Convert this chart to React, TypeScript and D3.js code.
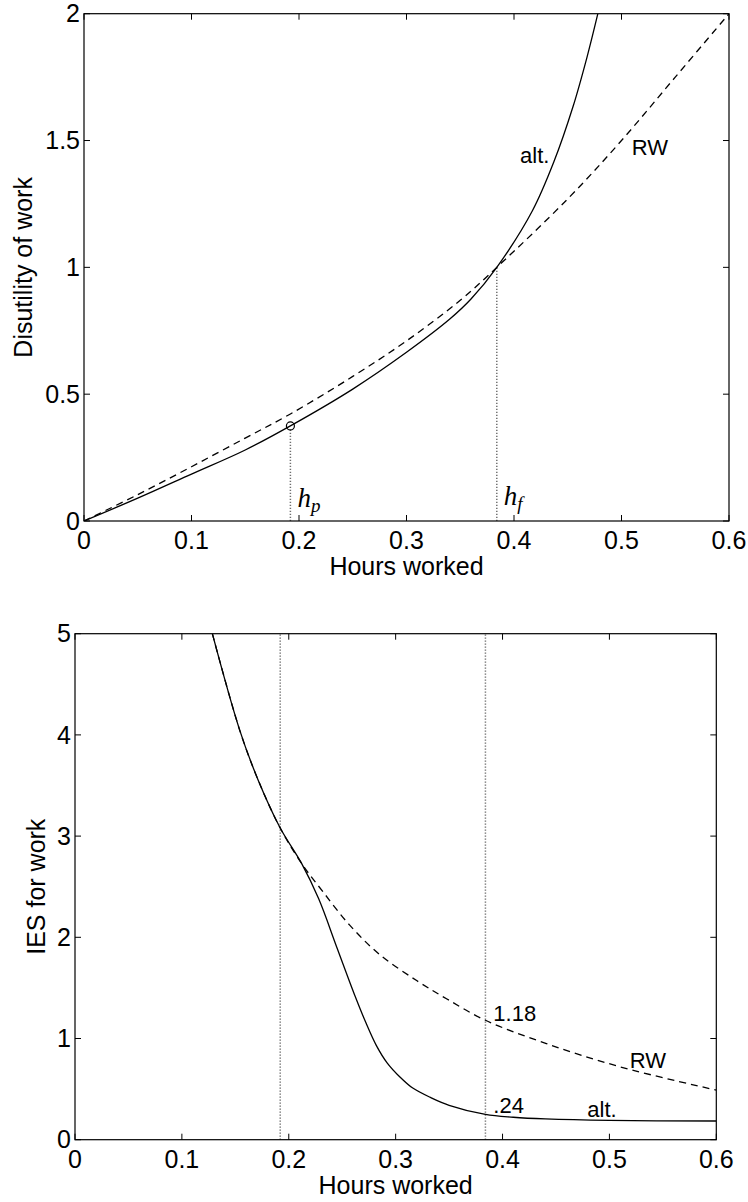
import React from 'react';
import * as d3 from 'd3';

// tick values shared by both panels
const xTicks = [0, 0.1, 0.2, 0.3, 0.4, 0.5, 0.6];
const topYTicks = [0, 0.5, 1, 1.5, 2];
const bottomYTicks = [0, 1, 2, 3, 4, 5];

// marked hours
const hPart = 0.192;
const hFull = 0.384;
const altAtPart = 0.375;
const valueAtFull = 1.0;

// top panel: disutility of work
const topRwHours = [0, 0.05, 0.1, 0.15, 0.192, 0.25, 0.3, 0.35, 0.384, 0.45, 0.5, 0.55, 0.6];
const topRwValues = [0, 0.104, 0.214, 0.327, 0.422, 0.57, 0.71, 0.87, 1.0, 1.27, 1.5, 1.75, 2.0];
const topAltHours = [0, 0.05, 0.1, 0.15, 0.192, 0.25, 0.3, 0.34, 0.36, 0.384, 0.417, 0.437, 0.455, 0.468, 0.478];
const topAltValues = [0, 0.09, 0.185, 0.28, 0.375, 0.52, 0.665, 0.795, 0.875, 1.0, 1.222, 1.415, 1.635, 1.83, 2.0];

// bottom panel: IES for work
const botRwHours = [0.1285, 0.154, 0.1715, 0.192, 0.212, 0.232, 0.257, 0.285, 0.32, 0.348, 0.384, 0.441, 0.51, 0.6];
const botRwValues = [5.0, 4.05, 3.55, 3.08, 2.73, 2.45, 2.12, 1.83, 1.57, 1.39, 1.18, 0.95, 0.72, 0.49];
const botAltHours = [0.1285, 0.154, 0.1715, 0.192, 0.212, 0.228, 0.245, 0.262, 0.272, 0.282, 0.292, 0.304, 0.316, 0.333, 0.35, 0.384, 0.41, 0.44, 0.5, 0.6];
const botAltValues = [5.0, 4.05, 3.55, 3.08, 2.73, 2.38, 1.9, 1.42, 1.16, 0.93, 0.76, 0.62, 0.51, 0.415, 0.34, 0.25, 0.222, 0.205, 0.19, 0.185];

const SANS = '"Liberation Sans", Arial, Helvetica, sans-serif';
const SERIF = '"Liberation Serif", "Times New Roman", serif';

function Frame({ x, y, xTickVals, yTickVals, yFmt, yLabel, yLabelX }) {
  const [x0, x1] = x.range();
  const [y0, y1] = y.range();
  const tl = 6;
  return (
    <g>
      <rect x={x0} y={y1} width={x1 - x0} height={y0 - y1} fill="none" stroke="#000" strokeWidth={1.2} />
      {xTickVals.map(t => (
        <g key={'x' + t}>
          <line x1={x(t)} x2={x(t)} y1={y0} y2={y0 - tl} stroke="#000" />
          <line x1={x(t)} x2={x(t)} y1={y1} y2={y1 + tl} stroke="#000" />
          <text x={x(t)} y={y0 + 28} textAnchor="middle" fontSize={25} fontFamily={SANS}>{String(t)}</text>
        </g>
      ))}
      {yTickVals.map(t => (
        <g key={'y' + t}>
          <line x1={x0} x2={x0 + tl} y1={y(t)} y2={y(t)} stroke="#000" />
          <line x1={x1} x2={x1 - tl} y1={y(t)} y2={y(t)} stroke="#000" />
          <text x={x0 - 4} y={y(t)} dy="0.35em" textAnchor="end" fontSize={25} fontFamily={SANS}>{yFmt(t)}</text>
        </g>
      ))}
      <text x={(x0 + x1) / 2} y={y0 + 54} textAnchor="middle" fontSize={25} fontFamily={SANS}>Hours worked</text>
      <text transform={`translate(${yLabelX},${(y0 + y1) / 2}) rotate(-90)`} textAnchor="middle" fontSize={25} fontFamily={SANS}>{yLabel}</text>
    </g>
  );
}

export default function App() {
  // top panel scales
  const xTop = d3.scaleLinear().domain([0, 0.6]).range([84, 729]);
  const yTop = d3.scaleLinear().domain([0, 2]).range([521, 13.7]);
  // bottom panel scales
  const xBot = d3.scaleLinear().domain([0, 0.6]).range([75, 716.3]);
  const yBot = d3.scaleLinear().domain([0, 5]).range([1139.7, 633.7]);

  const mkLine = (xs, ys) => d3.line().curve(d3.curveCatmullRom.alpha(0.5)).x(d => xs(d[0])).y(d => ys(d[1]));
  const zip = (a, b) => a.map((v, i) => [v, b[i]]);

  const lineTop = mkLine(xTop, yTop);
  const lineBot = mkLine(xBot, yBot);

  const fmt1 = t => (t === 0 ? '0' : String(t));
  const dotted = { stroke: '#6f6f6f', strokeWidth: 1.5, strokeDasharray: '1.2,1.8' };

  return (
    <svg width={748} height={1202} style={{ position: 'absolute', left: 0, top: 0, background: '#fff' }}>
      <rect width={748} height={1202} fill="#fff" />
      <defs>
        <clipPath id="clipTop"><rect x={84} y={13.7} width={645} height={507.3} /></clipPath>
        <clipPath id="clipBot"><rect x={75} y={633.7} width={641.3} height={506} /></clipPath>
      </defs>

      {/* top panel */}
      <g clipPath="url(#clipTop)">
        <line x1={xTop(hPart)} x2={xTop(hPart)} y1={yTop(0)} y2={yTop(altAtPart) + 4} {...dotted} />
        <line x1={xTop(hFull)} x2={xTop(hFull)} y1={yTop(0)} y2={yTop(valueAtFull)} {...dotted} />
        <path d={lineTop(zip(topRwHours, topRwValues))} fill="none" stroke="#000" strokeWidth={1.3} strokeDasharray="7,5" />
        <path d={lineTop(zip(topAltHours, topAltValues))} fill="none" stroke="#000" strokeWidth={1.3} />
        <circle cx={xTop(hPart)} cy={yTop(altAtPart)} r={4} fill="none" stroke="#000" strokeWidth={1.2} />
      </g>
      <Frame x={xTop} y={yTop} xTickVals={xTicks} yTickVals={topYTicks} yFmt={fmt1} yLabel="Disutility of work" yLabelX={32} />
      <text x={xTop(0.4056)} y={yTop(1.413)} fontSize={22} fontFamily={SANS}>alt.</text>
      <text x={xTop(0.5095)} y={yTop(1.443)} fontSize={22} fontFamily={SANS}>RW</text>
      <text x={xTop(hPart) + 7} y={yTop(0.055)} fontSize={27} fontStyle="italic" fontFamily={SERIF}>h<tspan fontSize={19} dy={5}>p</tspan></text>
      <text x={xTop(hFull) + 7} y={yTop(0.063)} fontSize={27} fontStyle="italic" fontFamily={SERIF}>h<tspan fontSize={19} dy={5}>f</tspan></text>

      {/* bottom panel */}
      <g clipPath="url(#clipBot)">
        <line x1={xBot(hPart)} x2={xBot(hPart)} y1={yBot(0)} y2={yBot(5)} {...dotted} />
        <line x1={xBot(hFull)} x2={xBot(hFull)} y1={yBot(0)} y2={yBot(5)} {...dotted} />
        <path d={lineBot(zip(botRwHours, botRwValues))} fill="none" stroke="#000" strokeWidth={1.3} strokeDasharray="7,5" />
        <path d={lineBot(zip(botAltHours, botAltValues))} fill="none" stroke="#000" strokeWidth={1.3} />
      </g>
      <Frame x={xBot} y={yBot} xTickVals={xTicks} yTickVals={bottomYTicks} yFmt={fmt1} yLabel="IES for work" yLabelX={45} />
      <text x={xBot(0.3914)} y={yBot(1.176)} fontSize={22} fontFamily={SANS}>1.18</text>
      <text x={xBot(0.3914)} y={yBot(0.261)} fontSize={22} fontFamily={SANS}>.24</text>
      <text x={xBot(0.519)} y={yBot(0.705)} fontSize={22} fontFamily={SANS}>RW</text>
      <text x={xBot(0.4793)} y={yBot(0.221)} fontSize={22} fontFamily={SANS}>alt.</text>
    </svg>
  );
}
